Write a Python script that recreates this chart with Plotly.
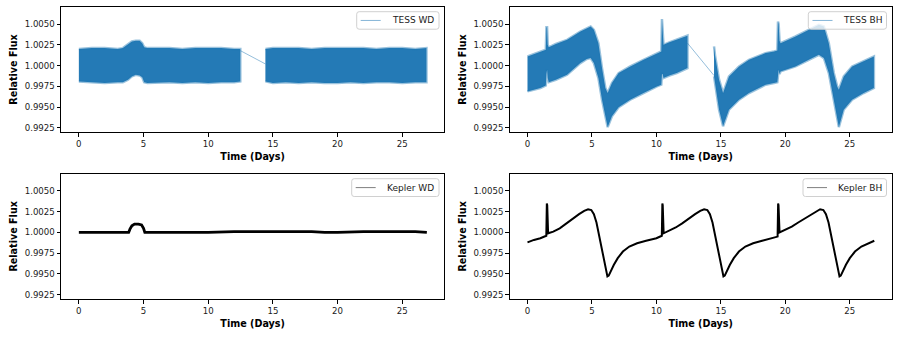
import plotly.graph_objects as go
from plotly.subplots import make_subplots

# ---- TESS WD: band envelope (upper / lower) ----
wd_t1 = [0.0, 1.0, 2.0, 3.0, 3.4, 3.8, 4.1, 4.4, 4.7, 4.9, 5.05, 5.3, 6.0, 7.0, 8.0, 9.0, 10.0, 11.0, 12.0, 12.48]
wd_up1 = [1.0020, 1.0021, 1.0021, 1.0020, 1.0021, 1.0026, 1.0029, 1.0030, 1.0030, 1.0027, 1.0022, 1.0021,
          1.0021, 1.0021, 1.0020, 1.0021, 1.0021, 1.0021, 1.0020, 1.0020]
wd_lo1 = [0.9981, 0.9980, 0.9979, 0.9980, 0.9980, 0.9983, 0.9987, 0.9989, 0.9988, 0.9986, 0.9980, 0.9979,
          0.9979, 0.9980, 0.9979, 0.9980, 0.9979, 0.9980, 0.9980, 0.9981]
wd_t2 = [14.42, 15.0, 16.0, 17.0, 18.0, 19.0, 20.0, 21.0, 22.0, 23.0, 24.0, 25.0, 26.0, 26.87]
wd_up2 = [1.0020, 1.0021, 1.0021, 1.0021, 1.0020, 1.0021, 1.0021, 1.0021, 1.0021, 1.0020, 1.0021, 1.0021, 1.0020, 1.0021]
wd_lo2 = [0.9981, 0.9979, 0.9980, 0.9979, 0.9980, 0.9979, 0.9979, 0.9980, 0.9979, 0.9980, 0.9980, 0.9979, 0.9980, 0.9980]
wd_gap_t = [12.48, 14.42]
wd_gap_f = [1.0018, 1.0002]

# ---- TESS BH: band envelope ----
bh_t1 = [0.0, 0.5, 1.0, 1.42, 1.47, 1.52, 1.57, 1.65, 2.2, 3.07, 4.1, 4.6, 4.9, 5.15, 5.5, 5.78, 6.04, 6.22,
         6.55, 7.07, 7.97, 9.0, 10.04, 10.38, 10.43, 10.48, 10.55, 11.0, 11.58, 12.0, 12.41]
bh_up1 = [1.0011, 1.0014, 1.0017, 1.0019, 1.0046, 1.0046, 1.0025, 1.0022, 1.0026, 1.0031, 1.0041, 1.0045,
          1.0047, 1.0043, 1.0027, 0.9997, 0.9973, 0.9967, 0.9979, 0.9991, 0.9999, 1.0007, 1.0015, 1.0017,
          1.0056, 1.0046, 1.0025, 1.0028, 1.0031, 1.0034, 1.0036]
bh_lo1 = [0.9969, 0.9971, 0.9973, 0.9976, 0.9990, 0.9995, 0.9985, 0.9980, 0.9983, 0.9989, 1.0003, 1.0008,
          1.0009, 1.0003, 0.9985, 0.9959, 0.9939, 0.9926, 0.9939, 0.9950, 0.9959, 0.9967, 0.9975, 0.9977,
          0.9990, 0.9990, 0.9985, 0.9988, 0.9991, 0.9994, 0.9997]
bh_t2 = [14.47, 14.55, 14.86, 15.17, 15.63, 16.41, 17.18, 18.47, 19.12, 19.38, 19.43, 19.48, 19.55, 19.63,
         20.79, 21.82, 22.6, 22.99, 23.37, 23.76, 24.02, 24.15, 24.53, 25.18, 26.08, 26.87]
bh_up2 = [1.0023, 1.0012, 0.9983, 0.9967, 0.9987, 0.9999, 1.0007, 1.0015, 1.0017, 1.0018, 1.0053, 1.0050,
          1.0030, 1.0027, 1.0035, 1.0043, 1.0049, 1.0047, 1.0027, 0.9991, 0.9975, 0.9971, 0.9987, 0.9999,
          1.0005, 1.0011]
bh_lo2 = [0.9987, 0.9975, 0.9947, 0.9927, 0.9947, 0.9959, 0.9967, 0.9977, 0.9979, 0.9980, 0.9990, 0.9995,
          0.9990, 0.9993, 0.9999, 1.0007, 1.0013, 1.0009, 0.9991, 0.9955, 0.9937, 0.9926, 0.9947, 0.9959,
          0.9967, 0.9973]
bh_gap_t = [12.41, 14.47]
bh_gap_f = [1.0027, 0.9988]

# ---- Kepler WD ----
kwd_t = [0.0, 1.0, 2.0, 3.0, 3.85, 3.95, 4.1, 4.3, 4.6, 4.85, 5.0, 5.1, 5.2, 6.0, 8.0, 10.0, 12.0, 14.0,
         16.0, 18.0, 19.0, 20.0, 22.0, 24.0, 26.0, 26.9]
kwd_f = [1.0000, 1.0000, 1.0000, 1.0000, 1.0000, 1.0004, 1.0008, 1.0010, 1.0010, 1.0009, 1.0005, 1.0000,
         1.0000, 1.0000, 1.0000, 1.0000, 1.0001, 1.0001, 1.0001, 1.0001, 1.0000, 1.0000, 1.0001, 1.0001,
         1.0001, 1.0000]

# ---- Kepler BH ----
kbh_t = [0.0, 0.5, 1.0, 1.46, 1.50, 1.53, 1.60, 2.0, 2.5, 3.0, 3.5, 4.0, 4.4, 4.7, 4.95, 5.15, 5.35, 5.55,
         5.75, 5.95, 6.1, 6.2, 6.3, 6.45, 6.7, 7.0, 7.4, 7.9, 8.5, 9.2, 10.0,
         10.42, 10.46, 10.49, 10.56, 11.0, 11.5, 12.0, 12.5, 13.0, 13.4, 13.7, 13.95, 14.15, 14.35, 14.55,
         14.75, 14.95, 15.1, 15.2, 15.3, 15.45, 15.7, 16.0, 16.4, 16.9, 17.5, 18.2, 19.0,
         19.40, 19.44, 19.47, 19.55, 20.0, 20.5, 21.0, 21.5, 22.0, 22.4, 22.7, 22.95, 23.15, 23.35, 23.55,
         23.75, 23.95, 24.1, 24.2, 24.3, 24.45, 24.7, 25.0, 25.4, 25.9, 26.5, 26.9]
kbh_f = [0.9988, 0.9991, 0.9993, 0.9996, 1.0035, 1.0033, 0.9999, 1.0001, 1.0005, 1.0011, 1.0017, 1.0022,
         1.0026, 1.0028, 1.0027, 1.0022, 1.0012, 0.9997, 0.9980, 0.9963, 0.9952, 0.9947, 0.9948, 0.9953,
         0.9961, 0.9969, 0.9977, 0.9983, 0.9987, 0.9990, 0.9993,
         0.9996, 1.0035, 1.0033, 0.9999, 1.0002, 1.0006, 1.0011, 1.0017, 1.0022, 1.0026, 1.0028, 1.0027,
         1.0022, 1.0012, 0.9997, 0.9980, 0.9963, 0.9952, 0.9947, 0.9948, 0.9953, 0.9961, 0.9969, 0.9977,
         0.9983, 0.9987, 0.9990, 0.9993,
         0.9995, 1.0035, 1.0033, 1.0000, 1.0003, 1.0007, 1.0012, 1.0017, 1.0022, 1.0026, 1.0028, 1.0027,
         1.0022, 1.0012, 0.9997, 0.9980, 0.9963, 0.9952, 0.9947, 0.9948, 0.9953, 0.9961, 0.9969, 0.9977,
         0.9983, 0.9987, 0.9990]

y_ticks = [0.9925, 0.9950, 0.9975, 1.0000, 1.0025, 1.0050]
x_ticks = [0, 5, 10, 15, 20, 25]

BLUE = "rgb(36,122,182)"
BLUE_EDGE = "rgba(31,119,180,0.45)"
FONT = "DejaVu Sans"
W, H = 899, 337

fig = make_subplots(rows=2, cols=2)


def band(t, up, lo, row, col):
    fig.add_trace(go.Scatter(
        x=t + t[::-1], y=up + lo[::-1],
        mode="lines", fill="toself", fillcolor=BLUE,
        line=dict(color=BLUE_EDGE, width=2.5),
        showlegend=False, hoverinfo="skip"
    ), row=row, col=col)


# TESS WD
band(wd_t1, wd_up1, wd_lo1, 1, 1)
band(wd_t2, wd_up2, wd_lo2, 1, 1)
fig.add_trace(go.Scatter(x=wd_gap_t, y=wd_gap_f, mode="lines", showlegend=False,
                         line=dict(color="rgba(31,119,180,0.6)", width=0.8)), row=1, col=1)

# TESS BH
band(bh_t1, bh_up1, bh_lo1, 1, 2)
band(bh_t2, bh_up2, bh_lo2, 1, 2)
fig.add_trace(go.Scatter(x=bh_gap_t, y=bh_gap_f, mode="lines", showlegend=False,
                         line=dict(color="rgba(31,119,180,0.6)", width=0.8)), row=1, col=2)

# Kepler WD / BH
fig.add_trace(go.Scatter(x=kwd_t, y=kwd_f, mode="lines", line=dict(color="black", width=2.8),
                         showlegend=False), row=2, col=1)
fig.add_trace(go.Scatter(x=kbh_t, y=kbh_f, mode="lines", line=dict(color="black", width=2),
                         showlegend=False), row=2, col=2)

# axes boxes in pixels (left, right, top, bottom)
box = {(1, 1): (61, 444.3, 6.7, 132.3), (1, 2): (509.7, 891.7, 6.7, 132.3),
       (2, 1): (61, 444.3, 173.7, 299), (2, 2): (509.7, 891.7, 173.7, 299)}

axis_common = dict(showline=True, mirror=True, linecolor="black", linewidth=1,
                   ticks="outside", ticklen=3.5, tickwidth=0.8, tickcolor="black",
                   showgrid=False, zeroline=False,
                   tickfont=dict(family=FONT, size=8.6, color="#1a1a1a"))
title_font = dict(family=FONT, size=9.6, color="black", weight="bold")

for i, (r, c) in enumerate([(1, 1), (1, 2), (2, 1), (2, 2)], start=1):
    L, R, T, B = box[(r, c)]
    xa = "xaxis" if i == 1 else f"xaxis{i}"
    ya = "yaxis" if i == 1 else f"yaxis{i}"
    fig.layout[xa].update(domain=[L / W, R / W], range=[-1.38, 28.25], tickvals=x_ticks,
                          title=dict(text="Time (Days)", standoff=5, font=title_font),
                          **axis_common)
    fig.layout[ya].update(domain=[1 - B / H, 1 - T / H], range=[0.99198, 1.00708], tickvals=y_ticks,
                          tickformat=".4f",
                          title=dict(text="Relative Flux", standoff=5, font=title_font),
                          **axis_common)

# matplotlib-style legends drawn by hand: (box left, right, top, bottom, line x0, x1, text x, colour, label)
legends = [
    (356.7, 439.0, 11.7, 29.2, 360.7, 380.7, 389.5, "rgba(31,119,180,0.55)", "TESS WD"),
    (808.3, 886.5, 11.7, 29.2, 812.5, 832.5, 841.0, "rgba(31,119,180,0.55)", "TESS BH"),
    (351.7, 439.0, 178.7, 196.5, 355.7, 375.7, 384.5, "rgba(0,0,0,0.5)", "Kepler WD"),
    (803.0, 886.5, 178.7, 196.5, 807.0, 827.0, 836.0, "rgba(0,0,0,0.5)", "Kepler BH"),
]
shapes, annotations = [], []
for x0, x1, y0, y1, lx0, lx1, tx, col, label in legends:
    px0, px1 = x0 / W, x1 / W
    py0, py1 = 1 - y0 / H, 1 - y1 / H
    rx, ry = 2.5 / W, 2.5 / H
    path = (f"M {px0 + rx},{py0} L {px1 - rx},{py0} Q {px1},{py0} {px1},{py0 - ry} "
            f"L {px1},{py1 + ry} Q {px1},{py1} {px1 - rx},{py1} L {px0 + rx},{py1} "
            f"Q {px0},{py1} {px0},{py1 + ry} L {px0},{py0 - ry} Q {px0},{py0} {px0 + rx},{py0} Z")
    shapes.append(dict(type="path", path=path, xref="paper", yref="paper",
                       line=dict(color="#d0d0d0", width=1), fillcolor="rgba(255,255,255,0.8)",
                       layer="above"))
    ym = 1 - (y0 + y1) / 2 / H
    shapes.append(dict(type="line", xref="paper", yref="paper", x0=lx0 / W, x1=lx1 / W, y0=ym, y1=ym,
                       line=dict(color=col, width=1), layer="above"))
    annotations.append(dict(text=label, xref="paper", yref="paper", x=tx / W, y=ym,
                            xanchor="left", yanchor="middle", showarrow=False,
                            font=dict(family=FONT, size=9.0, color="#1a1a1a")))

fig.update_layout(
    shapes=shapes, annotations=annotations,
    showlegend=False,
    width=W, height=H,
    margin=dict(l=0, r=0, t=0, b=0),
    plot_bgcolor="white", paper_bgcolor="white",
    font=dict(family=FONT),
)

fig.write_html("out.html", config={"displayModeBar": False},
               post_script="document.body.style.margin='0px';")
